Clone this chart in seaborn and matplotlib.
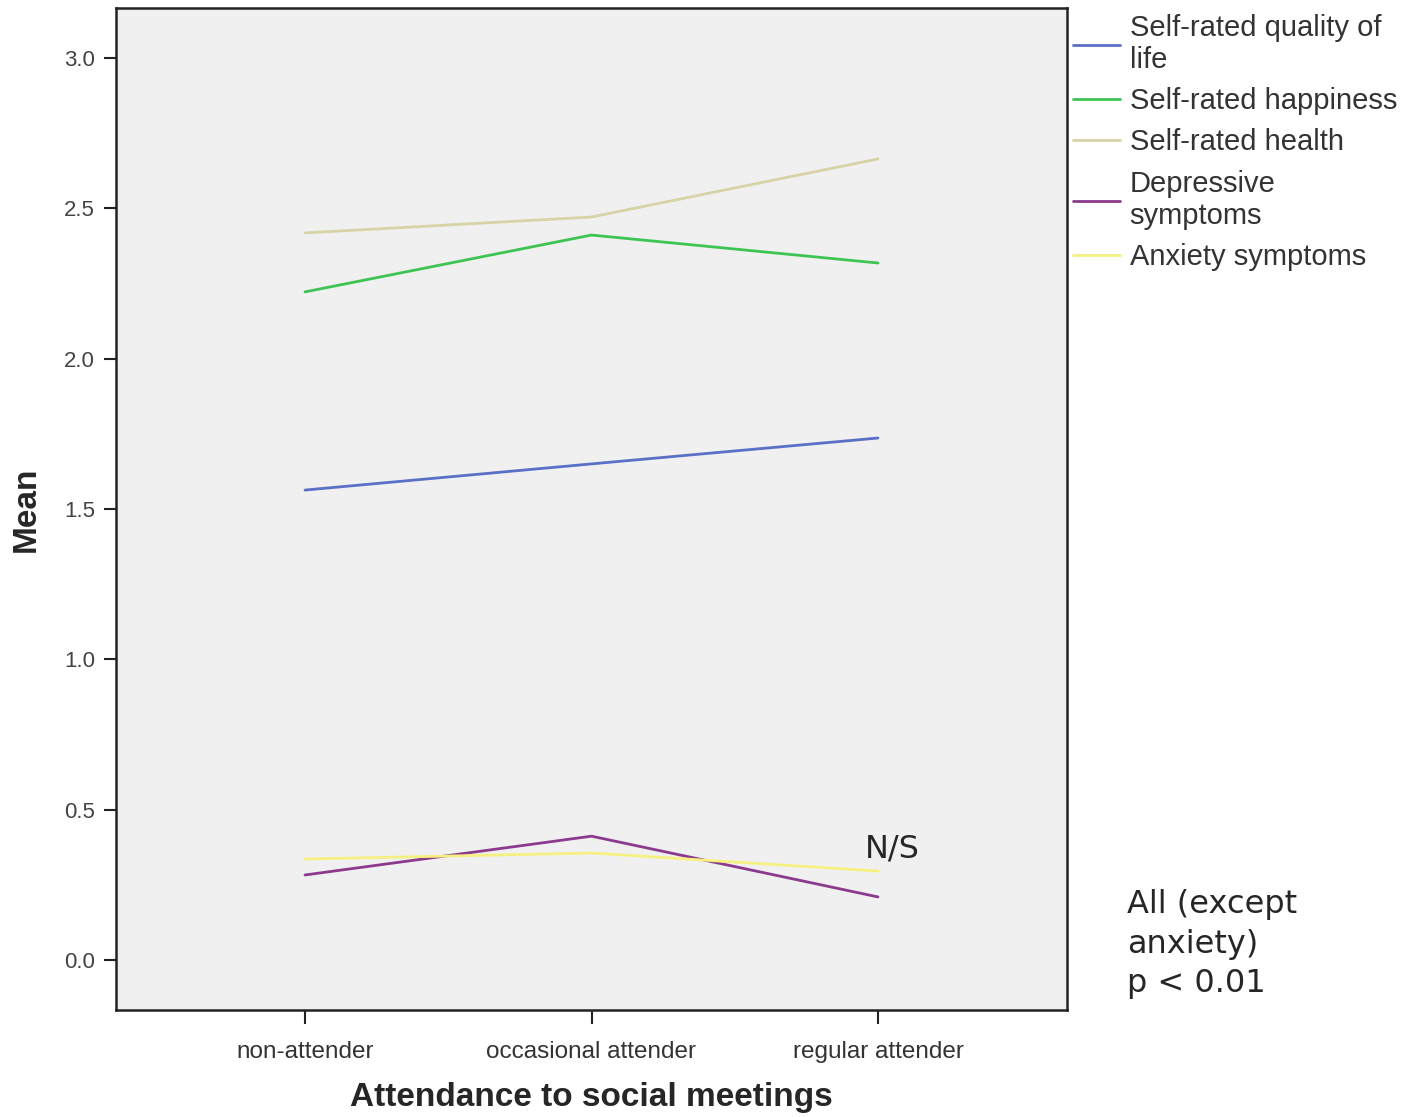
import matplotlib
matplotlib.use("Agg")
import matplotlib.pyplot as plt
import seaborn as sns
import pandas as pd

categories = ["non-attender", "occasional attender", "regular attender"]
series_names = ["Self-rated quality of\nlife", "Self-rated happiness", "Self-rated health",
                "Depressive\nsymptoms", "Anxiety symptoms"]
quality = [1.563, 1.650, 1.736]
happiness = [2.222, 2.411, 2.318]
health = [2.418, 2.471, 2.664]
depressive = [0.283, 0.412, 0.210]
anxiety = [0.336, 0.356, 0.296]
colors = ["#5a70c6", "#3ec453", "#d8d3a6", "#8c3a8e", "#f6f080"]

values = [quality, happiness, health, depressive, anxiety]
rows = []
for name, vals in zip(series_names, values):
    for c, v in zip(categories, vals):
        rows.append({"cat": c, "series": name, "mean": v})
df = pd.DataFrame(rows)

sns.set_style("white")
plt.rcParams["font.family"] = ["Liberation Sans", "DejaVu Sans"]

fig = plt.figure(figsize=(14.2, 11.17), dpi=100)
ax = fig.add_axes([116/1420, 1-1010/1117, (1067-116)/1420, (1010-8)/1117])
ax.set_facecolor("#f0f0f0")

sns.lineplot(data=df, x="cat", y="mean", hue="series", hue_order=series_names,
             palette=colors, ax=ax, linewidth=2, legend=False, sort=False)

ax.set_xlim(-0.66, 2.66)
ax.set_ylim(-0.166, 3.166)
ax.set_yticks([0.0, 0.5, 1.0, 1.5, 2.0, 2.5, 3.0])
ax.set_yticklabels(["0.0", "0.5", "1.0", "1.5", "2.0", "2.5", "3.0"])
for s in ax.spines.values():
    s.set_color("#222222")
    s.set_linewidth(1.8)
ax.tick_params(axis="y", left=True, direction="out", length=9, width=1.5, color="#222222",
               labelsize=16, labelcolor="#444444", pad=6)
ax.tick_params(axis="x", bottom=True, direction="out", length=10, width=1.5, color="#222222",
               labelsize=17.5, labelcolor="#333333", pad=12)
ax.set_xlabel("Attendance to social meetings", fontsize=24, fontweight="bold", labelpad=14)
ax.set_ylabel("Mean", fontsize=24, fontweight="bold", labelpad=16)

handles = ax.get_lines()[:5]
leg = ax.legend(handles, series_names, loc="upper left", bbox_to_anchor=(1.0, 1.0),
                frameon=False, fontsize=21, handlelength=1.6, handletextpad=0.35,
                labelspacing=0.45, borderaxespad=0.0, borderpad=0.2)
for t in leg.get_texts():
    t.set_color("#333333")

ax.text(1.955, 0.369, "N/S", fontsize=23, family="DejaVu Sans", ha="left", va="center")
fig.text(1127/1420, 1-944/1117, "All (except\nanxiety)\np < 0.01", fontsize=23,
         family="DejaVu Sans", ha="left", va="center", linespacing=1.35)

fig.savefig("out.png", dpi=100)
